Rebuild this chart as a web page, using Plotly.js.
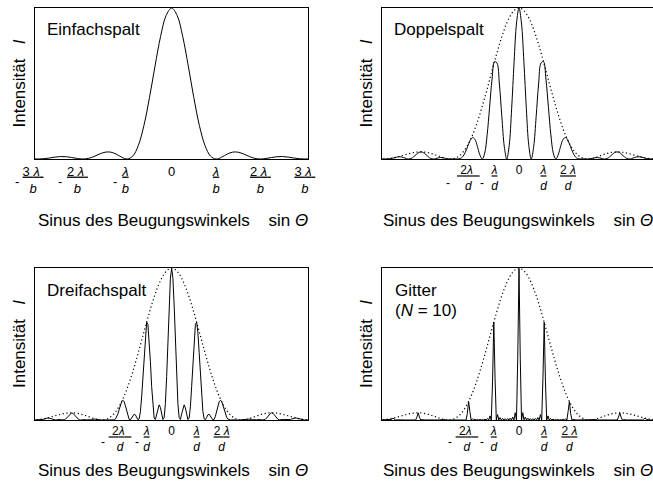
<!DOCTYPE html>
<html><head><meta charset="utf-8">
<script src="https://cdn.plot.ly/plotly-3.0.1.min.js"></script>
<style>html,body{margin:0;padding:0;background:#fff;}#chart{width:653px;height:484px;}</style>
</head><body><div id="chart"></div>
<script>
// ---------- data (intensity, normalised to the central maximum) ----------
// Einfachspalt: x = -3.125 ... 3.125 in steps of 0.125 (units of lambda/b)
const singleX0 = -3.125, singleDx = 0.125;
const singleSlit = [.0015,0,.0018,.0067,.0126,.0162,.0153,.0100,.0033,0,.0042,.0165,.0328,.0450,.0457,.0324,.0117,0,.0194,.0901,.2214,.4053,.6150,.8106,.9497,1,.9497,.8106,.6150,.4053,.2214,.0901,.0194,0,.0117,.0324,.0457,.0450,.0328,.0165,.0042,0,.0033,.0100,.0153,.0162,.0126,.0067,.0018,0,.0015];

// Doppelspalt and single-slit envelope: x = -5.7 ... 5.7 in steps of 0.1 (units of lambda/d)
const coarseX0 = -5.7, coarseDx = 0.1;
const envelope = [.0003,0,.0003,.0013,.0031,.0055,.0086,.0124,.0165,.0211,.0258,.0305,.0349,.0390,.0424,.0450,.0467,.0472,.0465,.0447,.0416,.0375,.0324,.0267,.0206,.0146,.0090,.0044,.0012,0,.0014,.0058,.0139,.0260,.0425,.0638,.0901,.1214,.1578,.1990,.2449,.2949,.3486,.4053,.4641,.5243,.5849,.6448,.7031,.7587,.8106,.8578,.8994,.9346,.9628,.9833,.9958,
1,
.9958,.9833,.9628,.9346,.8994,.8578,.8106,.7587,.7031,.6448,.5849,.5243,.4641,.4053,.3486,.2949,.2449,.1990,.1578,.1214,.0901,.0638,.0425,.0260,.0139,.0058,.0014,0,.0012,.0044,.0090,.0146,.0206,.0267,.0324,.0375,.0416,.0447,.0465,.0472,.0467,.0450,.0424,.0390,.0349,.0305,.0258,.0211,.0165,.0124,.0086,.0055,.0031,.0013,.0003,0,.0003];
const doubleSlit = [.0003,0,0,.0001,.0011,.0036,.0078,.0124,.0150,.0138,.0089,.0029,0,.0037,.0147,.0295,.0422,.0472,.0421,.0292,.0144,.0036,0,.0026,.0071,.0096,.0082,.0044,.0011,0,.0005,.0006,0,.0025,.0147,.0418,.0815,.1214,.1427,.1303,.0846,.0282,0,.0387,.1604,.3432,.5290,.6448,.6360,.4966,.2801,.0819,0,.0893,.3326,.6436,.9007,
1,
.9007,.6436,.3326,.0893,0,.0819,.2801,.4966,.6360,.6448,.5290,.3432,.1604,.0387,0,.0282,.0846,.1303,.1427,.1214,.0815,.0418,.0147,.0025,0,.0006,.0005,0,.0011,.0044,.0082,.0096,.0071,.0026,0,.0036,.0144,.0292,.0421,.0472,.0422,.0295,.0147,.0037,0,.0029,.0089,.0138,.0150,.0124,.0078,.0036,.0011,.0001,0,0,.0003];

// Dreifachspalt and Gitter (N = 10): x = -5.5 ... 5.5 in steps of 0.05 (units of lambda/d)
const fineX0 = -5.5, fineDx = 0.05;
const tripleSlit = [0,.0001,.0001,0,.0001,.0005,.0016,.0037,.0066,.0098,
.0124,.0135,.0126,.0099,.0061,.0026,.0004,.0001,.0013,.0030,
.0039,.0034,.0017,.0001,.0007,.0049,.0131,.0242,.0355,.0441,
.0472,.0440,.0354,.0241,.0130,.0048,.0007,.0001,.0016,.0032,
.0036,.0027,.0011,.0001,.0003,.0020,.0043,.0062,.0069,.0061,
.0044,.0020,.0006,.0001,0,0,0,0,.0003,.0009,
.0015,.0018,.0011,.0001,.0007,.0058,.0186,.0401,.0686,.0983,
.1214,.1300,.1201,.0935,.0579,.0246,.0040,.0009,.0125,.0291,
.0387,.0341,.0172,.0015,.0075,.0549,.1525,.2917,.4454,.5755,
.6448,.6310,.5355,.3846,.2207,.0872,.0131,.0029,.0364,.0795,
.0999,.0830,.0397,.0033,.0156,.1082,.2860,.5210,.7584,.9348,
1,
.9348,.7584,.5210,.2860,.1082,.0156,.0033,.0397,.0830,.0999,
.0795,.0364,.0029,.0131,.0872,.2207,.3846,.5355,.6310,.6448,
.5755,.4454,.2917,.1525,.0549,.0075,.0015,.0172,.0341,.0387,
.0291,.0125,.0009,.0040,.0246,.0579,.0935,.1201,.1300,.1214,
.0983,.0686,.0401,.0186,.0058,.0007,.0001,.0011,.0018,.0015,
.0009,.0003,0,0,0,0,.0001,.0006,.0020,.0044,
.0061,.0069,.0062,.0043,.0020,.0003,.0001,.0011,.0027,.0036,
.0032,.0016,.0001,.0007,.0048,.0130,.0241,.0354,.0440,.0472,
.0441,.0355,.0242,.0131,.0049,.0007,.0001,.0017,.0034,.0039,
.0030,.0013,.0001,.0004,.0026,.0061,.0099,.0126,.0135,.0124,
.0098,.0066,.0037,.0016,.0005,.0001,0,.0001,.0001,0];
const grating = [0,0,0,0,0,.0001,0,.0003,0,.0043,
.0124,.0059,0,.0009,0,.0005,0,.0004,0,.0003,
0,.0004,0,.0005,0,.0009,0,.0022,0,.0192,
.0472,.0192,0,.0022,0,.0009,0,.0005,0,.0004,
0,.0003,0,.0003,0,.0004,0,.0006,0,.0027,
.0044,.0011,0,0,0,0,0,0,0,.0001,
0,.0002,0,.0004,0,.0011,0,.0037,0,.0429,
.1214,.0568,0,.0086,0,.0044,0,.0034,0,.0033,
0,.0039,0,.0055,0,.0099,0,.0269,0,.2513,
.6448,.2755,0,.0355,0,.0157,0,.0105,0,.0090,
0,.0094,0,.0120,0,.0195,0,.0481,0,.4082,
1,
.4082,0,.0481,0,.0195,0,.0120,0,.0094,0,
.0090,0,.0105,0,.0157,0,.0355,0,.2755,.6448,
.2513,0,.0269,0,.0099,0,.0055,0,.0039,0,
.0033,0,.0034,0,.0044,0,.0086,0,.0568,.1214,
.0429,0,.0037,0,.0011,0,.0004,0,.0002,0,
.0001,0,0,0,0,0,0,0,.0011,.0044,
.0027,0,.0006,0,.0004,0,.0003,0,.0003,0,
.0004,0,.0005,0,.0009,0,.0022,0,.0192,.0472,
.0192,0,.0022,0,.0009,0,.0005,0,.0004,0,
.0003,0,.0004,0,.0005,0,.0009,0,.0059,.0124,
.0043,0,.0003,0,.0001,0,0,0,0,0];

// tick positions and labels
const ticksSingle = [-3, -2, -1, 0, 1, 2, 3];
const ticksMulti = [-2, -1, 0, 1, 2];
const panelTitles = ['Einfachspalt', 'Doppelspalt', 'Dreifachspalt', 'Gitter'];
const yTitle = 'Intensit\u00e4t\u00A0\u00A0\u00A0<i>I</i>';
const xTitle = 'Sinus des Beugungswinkels\u00A0\u00A0\u00A0 sin <i>\u0398</i>';

// ---------- styling ----------
const F = 'Liberation Sans, Arial, Helvetica, sans-serif';
const nb = n => '\u00A0'.repeat(n);
const fr = (num, den, pad) => '<u>' + num + '</u>' + nb(pad) + '<br><i>' + den + '</i>' + nb(pad);
const lam = '<i>\u03bb</i>';

const ticktextSingle = [fr('3 ' + lam + nb(1), 'b', 3), fr('2 ' + lam + nb(1), 'b', 3), fr(lam, 'b', 1), '0',
  fr(lam, 'b', 0), fr('2 ' + lam + nb(1), 'b', 0), fr('3 ' + lam + nb(1), 'b', 0)];
const ticktextMulti = [fr(nb(1) + '2' + lam + nb(2), 'd', 1), fr(lam, 'd', 0), '0', fr(lam, 'd', 0), fr('2 ' + lam, 'd', 0)];

const black = '#000';
const solid = {color: black, width: 1};
const dotted = {color: black, width: 1.2, dash: '1.2px,2.6px'};

const traces = [
  {y: singleSlit, x0: singleX0, dx: singleDx, xaxis: 'x', yaxis: 'y', line: Object.assign({shape: 'spline'}, solid)},
  {y: envelope, x0: coarseX0, dx: coarseDx, xaxis: 'x2', yaxis: 'y2', line: Object.assign({shape: 'spline'}, dotted)},
  {y: doubleSlit, x0: coarseX0, dx: coarseDx, xaxis: 'x2', yaxis: 'y2', line: Object.assign({shape: 'spline'}, solid)},
  {y: envelope, x0: coarseX0, dx: coarseDx, xaxis: 'x3', yaxis: 'y3', line: Object.assign({shape: 'spline'}, dotted)},
  {y: tripleSlit, x0: fineX0, dx: fineDx, xaxis: 'x3', yaxis: 'y3', line: solid},
  {y: envelope, x0: coarseX0, dx: coarseDx, xaxis: 'x4', yaxis: 'y4', line: Object.assign({shape: 'spline'}, dotted)},
  {y: grating, x0: fineX0, dx: fineDx, xaxis: 'x4', yaxis: 'y4', line: solid}
];
traces.forEach(t => { t.type = 'scatter'; t.mode = 'lines'; t.hoverinfo = 'skip'; t.showlegend = false; });

const colL = [35 / 653, 308.3 / 653], colR = [381.7 / 653, 1];
const rowT = [1 - 159 / 484, 1 - 8 / 484], rowB = [1 - 420 / 484, 1 - 268.3 / 484];
const ranges = {x: [-3.078, 3.078], x2: [-5.604, 5.469], x3: [-5.466, 5.466], x4: [-5.448, 5.317]};

const frame = {showline: true, linecolor: black, linewidth: 1, mirror: true, showgrid: false, zeroline: false, ticks: '', fixedrange: true};
function xa(domain, range, vals, text, size, anchor) {
  return Object.assign({}, frame, {domain, range, anchor, tickmode: 'array', tickvals: vals, ticktext: text,
    tickfont: {family: F, size, color: black}});
}
function ya(domain, anchor) {
  return Object.assign({}, frame, {domain, range: [0, 1], anchor, showticklabels: false});
}

const ann = [];
const txt = (text, x, y, opts) => ann.push(Object.assign({text, x: x / 653, y: 1 - y / 484, xref: 'paper', yref: 'paper',
  showarrow: false, font: {family: F, size: 17, color: black}, xanchor: 'left', yanchor: 'middle'}, opts || {}));
txt(panelTitles[0], 44.5, 29.6);
txt(panelTitles[1], 391.5, 29.6);
txt(panelTitles[2], 44.5, 290.6);
txt(panelTitles[3], 393.2, 290.6);
txt('(<i>N</i> = 10)', 393.2, 310.8);
[[19, 83.5], [366, 83.5], [19, 344], [366, 344]].forEach(p => txt(yTitle, p[0], p[1], {textangle: -90, xanchor: 'center'}));
[[172.7, 220.1], [517.5, 220.1], [172.7, 470.1], [517.5, 470.1]].forEach(p => txt(xTitle, p[0], p[1], {xanchor: 'center'}));

// minus signs of the negative fraction labels, placed on the axes' scales beside each negative tick
const minusSigns = [
  {xref: 'x', ticks: [-3, -2, -1], shift: [-21.8, -22.9, -12.3], y: 181.7, size: 13},
  {xref: 'x2', ticks: [-2, -1], shift: [-21.7, -12.8], y: 183, size: 12},
  {xref: 'x3', ticks: [-2, -1], shift: [-18.3, -10], y: 441.7, size: 12},
  {xref: 'x4', ticks: [-2, -1], shift: [-18.6, -12.1], y: 441.7, size: 12}
];
minusSigns.forEach(m => m.ticks.forEach((t, i) => ann.push({text: '-', xref: m.xref, x: t, xshift: m.shift[i],
  yref: 'paper', y: 1 - m.y / 484, showarrow: false, xanchor: 'center', yanchor: 'middle',
  font: {family: F, size: m.size, color: black}})));

const layout = {
  width: 653, height: 484, margin: {l: 0, r: 0, t: 0, b: 0}, paper_bgcolor: '#fff', plot_bgcolor: 'rgba(0,0,0,0)',
  showlegend: false, font: {family: F, color: black},
  xaxis: xa(colL, ranges.x, ticksSingle, ticktextSingle, 13, 'y'),
  yaxis: ya(rowT, 'x'),
  xaxis2: xa(colR, ranges.x2, ticksMulti, ticktextMulti, 12, 'y2'),
  yaxis2: ya(rowT, 'x2'),
  xaxis3: xa(colL, ranges.x3, ticksMulti, ticktextMulti, 12, 'y3'),
  yaxis3: ya(rowB, 'x3'),
  xaxis4: xa(colR, ranges.x4, ticksMulti, ticktextMulti, 12, 'y4'),
  yaxis4: ya(rowB, 'x4'),
  annotations: ann
};
Plotly.newPlot('chart', traces, layout, {staticPlot: true, displayModeBar: false});
</script></body></html>
